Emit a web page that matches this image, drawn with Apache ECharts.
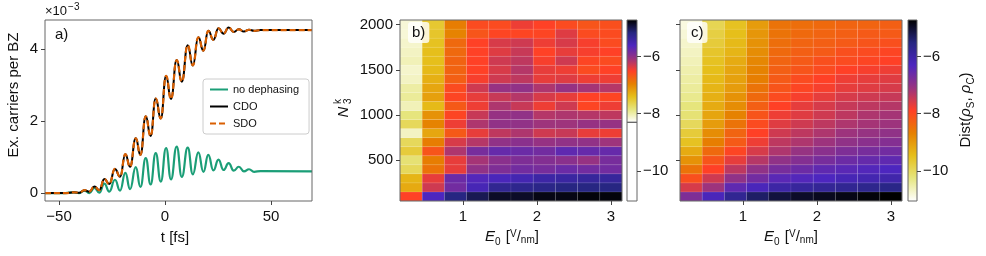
<!DOCTYPE html>
<html><head><meta charset="utf-8">
<script src="https://cdn.jsdelivr.net/npm/echarts@6/dist/echarts.min.js"></script>
<style>html,body{margin:0;padding:0;background:#fff}#c{width:986px;height:256px}</style>
</head><body><div id="c"></div>
<script>
// ---------- panel a data (carriers, units of 1e-3) ----------
const timeFs = [-56.6,-47,-43,-40.5,-38,-35.7,-33.3,-31,-28.6,-26.3,-23.6,-21.2,-18.7,-16.5,-13.8,-11.6,-9.1,-6.8,-4.4,-2.0,0.5,2.8,5.5,7.9,10.7,13.1,15.7,18.1,20.4,22.8,25.2,27.6,30.0,32.4,34.8,37.2,39.6,42,45,69.3];
const noDephasing = [0,0,0.02,0.0,0.07,0.0,0.14,0.01,0.26,0.04,0.37,0.07,0.56,0.11,0.72,0.17,0.97,0.24,1.11,0.32,1.25,0.38,1.29,0.45,1.26,0.52,1.13,0.59,1.06,0.63,0.93,0.64,0.83,0.62,0.73,0.6,0.66,0.59,0.61,0.6];
const cdo = [0,0,0.02,0.01,0.08,0.04,0.18,0.08,0.39,0.25,0.67,0.45,1.08,0.73,1.52,1.06,2.13,1.58,2.62,2.07,3.25,2.61,3.69,3.09,4.10,3.54,4.32,3.95,4.50,4.25,4.57,4.42,4.59,4.47,4.54,4.48,4.53,4.50,4.52,4.52];
const sdo = [0,0,0.02,0.01,0.08,0.04,0.18,0.08,0.39,0.25,0.67,0.45,1.08,0.73,1.52,1.06,2.13,1.58,2.62,2.07,3.25,2.61,3.69,3.09,4.10,3.54,4.32,3.95,4.50,4.25,4.57,4.42,4.59,4.47,4.54,4.48,4.53,4.50,4.52,4.52];
const ticksTime = [-50, 0, 50];
const ticksCarriers = [0, 2, 4];

// ---------- panels b, c data ----------
const fieldE0 = [0.3,0.6,0.9,1.2,1.5,1.8,2.1,2.4,2.7,3.0];
const kPoints = [100,200,300,400,500,600,700,800,900,1000,1100,1200,1300,1400,1500,1600,1700,1800,1900,2000];
const ticksE0 = [1, 2, 3];
const ticksK = [500, 1000, 1500, 2000];
const ticksDist = [-10, -8, -6];
// one row per E0 value, entries follow kPoints
const distB = [
  [-6.52,-7.26,-7.34,-7.69,-7.80,-7.55,-7.69,-8.09,-7.69,-7.84,-8.05,-7.94,-7.98,-8.09,-8.12,-8.05,-8.09,-8.12,-8.16,-8.16],
  [-5.62,-6.30,-6.41,-6.87,-6.94,-6.66,-6.94,-7.23,-6.98,-7.09,-7.37,-7.19,-7.23,-7.30,-7.37,-7.41,-7.41,-7.44,-7.48,-7.51],
  [-5.19,-5.84,-5.80,-6.41,-6.41,-6.16,-6.34,-6.69,-6.44,-6.55,-6.69,-6.55,-6.59,-6.73,-6.76,-6.76,-6.80,-6.80,-6.98,-6.94],
  [-5.02,-5.55,-5.66,-6.02,-6.12,-5.87,-6.19,-6.41,-6.16,-6.27,-6.44,-6.41,-6.30,-6.48,-6.52,-6.52,-6.52,-6.52,-6.66,-6.59],
  [-4.87,-5.30,-5.59,-5.91,-5.98,-5.77,-6.02,-6.23,-6.02,-6.05,-6.16,-6.27,-6.05,-6.30,-6.34,-6.30,-6.37,-6.34,-6.55,-6.59],
  [-4.87,-5.27,-5.52,-5.84,-5.91,-5.80,-5.98,-6.16,-6.02,-6.02,-6.27,-6.19,-6.02,-6.23,-6.19,-6.23,-6.27,-6.30,-6.55,-6.44],
  [-4.80,-5.23,-5.44,-5.87,-5.94,-5.84,-6.05,-6.30,-6.09,-6.19,-6.44,-6.34,-6.16,-6.41,-6.41,-6.48,-6.52,-6.44,-6.55,-6.52],
  [-4.80,-5.19,-5.41,-5.80,-5.98,-5.73,-6.02,-6.27,-6.09,-6.16,-6.30,-6.41,-6.05,-6.37,-6.44,-6.30,-6.41,-6.34,-6.37,-6.59],
  [-4.77,-5.19,-5.37,-5.84,-6.05,-5.77,-6.02,-6.41,-6.05,-6.19,-6.55,-6.52,-6.12,-6.44,-6.59,-6.55,-6.48,-6.48,-6.59,-6.66],
  [-4.77,-5.19,-5.37,-5.84,-5.87,-5.77,-6.09,-6.44,-6.05,-6.23,-6.44,-6.55,-6.19,-6.44,-6.52,-6.59,-6.52,-6.59,-6.59,-6.62]
];
const distC = [
  [-6.82,-7.57,-8.08,-8.52,-8.90,-9.22,-9.53,-9.72,-9.98,-10.17,-10.23,-10.35,-10.42,-10.48,-10.54,-10.61,-10.67,-10.73,-10.80,-10.86],
  [-6.25,-7.13,-7.51,-7.89,-8.14,-8.40,-8.65,-8.84,-9.03,-9.15,-9.22,-9.28,-9.34,-9.41,-9.47,-9.53,-9.60,-9.72,-9.79,-9.91],
  [-5.74,-6.50,-7.01,-7.38,-7.70,-7.95,-8.21,-8.33,-8.52,-8.71,-8.84,-8.90,-9.03,-9.09,-9.15,-9.22,-9.34,-9.41,-9.47,-9.53],
  [-5.36,-6.25,-6.69,-7.01,-7.32,-7.57,-7.76,-7.89,-8.02,-8.14,-8.27,-8.40,-8.52,-8.65,-8.71,-8.77,-8.84,-8.90,-8.96,-9.03],
  [-5.11,-5.99,-6.44,-6.75,-7.01,-7.26,-7.38,-7.51,-7.64,-7.76,-7.89,-8.02,-8.14,-8.21,-8.27,-8.33,-8.40,-8.46,-8.52,-8.52],
  [-4.98,-5.87,-6.37,-6.63,-6.88,-7.07,-7.26,-7.38,-7.51,-7.64,-7.70,-7.83,-7.95,-8.02,-8.14,-8.21,-8.27,-8.33,-8.40,-8.46],
  [-4.92,-5.80,-6.31,-6.50,-6.75,-6.94,-7.13,-7.26,-7.38,-7.51,-7.57,-7.70,-7.83,-7.89,-8.02,-8.08,-8.21,-8.27,-8.33,-8.40],
  [-4.86,-5.74,-6.18,-6.44,-6.63,-6.82,-7.01,-7.13,-7.26,-7.38,-7.45,-7.57,-7.70,-7.76,-7.89,-8.02,-8.08,-8.21,-8.27,-8.33],
  [-4.79,-5.68,-6.12,-6.37,-6.56,-6.75,-6.94,-7.07,-7.19,-7.26,-7.38,-7.51,-7.64,-7.70,-7.83,-7.95,-8.02,-8.14,-8.21,-8.33],
  [-4.73,-5.61,-6.06,-6.31,-6.50,-6.69,-6.88,-7.01,-7.13,-7.19,-7.32,-7.45,-7.57,-7.64,-7.76,-7.89,-7.95,-8.08,-8.21,-8.27]
];
const colorRangeB = [-8.3, -4.73];
const colorRangeC = [-11.05, -4.73];

// ---------- styling ----------
const FONT = "'Liberation Sans', Arial, sans-serif";
const CMR = ['#000000','#262680','#4d26bf','#993380','#ff4026','#e68000','#e6bf1a','#e6e680','#ffffff']; // dark -> light
const CMR_R = CMR.slice().reverse();
const minus = v => String(v).replace('-', '\u2212');

function valAxis(gridIndex, min, max, ticks, opts) {
  opts = opts || {};
  return {
    type: 'value', gridIndex, min, max, position: opts.position,
    show: opts.show !== false, z: 6,
    splitLine: {show: false}, axisLine: {show: false, onZero: false},
    axisTick: {show: !!ticks, length: 4, lineStyle: {color: '#444', width: 1}, customValues: ticks || undefined},
    axisLabel: {show: !!ticks && opts.labels !== false, customValues: ticks || undefined, formatter: minus,
      fontFamily: FONT, fontSize: 15, color: '#111', margin: opts.margin || 7}
  };
}
const frame = {show: true, borderColor: '#666', borderWidth: 1, backgroundColor: 'transparent', z: 5};

function cells(grid) {
  const out = [];
  fieldE0.forEach((e, i) => kPoints.forEach((n, j) => out.push([e, n, grid[i][j]])));
  return out;
}
const HALF_E = 0.15, HALF_N = 50;
function renderCell(params, api) {
  const e = api.value(0), n = api.value(1);
  const p0 = api.coord([e - HALF_E, n + HALF_N]);
  const p1 = api.coord([e + HALF_E, n - HALF_N]);
  return {type: 'rect', shape: {x: p0[0], y: p0[1], width: p1[0] - p0[0], height: p1[1] - p0[1]},
    style: {fill: api.visual('color'), stroke: 'rgba(255,255,255,0.13)', lineWidth: 0.6}};
}
function makeBar(range, axisRange) {
  const frac = (axisRange[1] - range[0]) / (axisRange[1] - axisRange[0]);
  const stops = CMR.map((c, i) => ({offset: frac * i / 8, color: c}));
  if (frac < 1) stops.push({offset: 1, color: '#ffffff'});
  return function (params, api) {
    const a = api.coord([0, axisRange[1]]), b = api.coord([1, axisRange[0]]);
    const children = [{type: 'rect', shape: {x: a[0], y: a[1], width: b[0] - a[0], height: b[1] - a[1]},
      style: {fill: new echarts.graphic.LinearGradient(0, 0, 0, 1, stops)}}];
    if (frac < 1) {
      const y = api.coord([0, range[0]])[1];
      children.push({type: 'line', shape: {x1: a[0], y1: y, x2: b[0], y2: y}, style: {stroke: '#333', lineWidth: 1}});
    }
    return {type: 'group', children};
  };
}

const chart = echarts.init(document.getElementById('c'), null, {renderer: 'canvas'});

chart.setOption({
  animation: false,
  grid: [
    Object.assign({left: 45, top: 20, width: 267, height: 181}, frame),
    Object.assign({left: 400, top: 20, width: 222, height: 181}, frame),
    Object.assign({left: 627, top: 20, width: 10, height: 181}, frame),
    Object.assign({left: 680, top: 20, width: 222, height: 181}, frame),
    Object.assign({left: 908, top: 20, width: 9, height: 181}, frame)
  ],
  xAxis: [
    valAxis(0, -56.6, 69.3, ticksTime, {margin: 8}),
    valAxis(1, 0.15, 3.15, ticksE0, {margin: 8}),
    valAxis(2, 0, 1, null, {show: false}),
    valAxis(3, 0.15, 3.15, ticksE0, {margin: 8}),
    valAxis(4, 0, 1, null, {show: false})
  ],
  yAxis: [
    valAxis(0, -0.22, 4.8, ticksCarriers, {position: 'left'}),
    valAxis(1, 50, 2050, ticksK, {position: 'left'}),
    valAxis(2, colorRangeC[0], colorRangeC[1], ticksDist, {position: 'right', margin: 6}),
    valAxis(3, 50, 2050, ticksK, {labels: false, position: 'left'}),
    valAxis(4, colorRangeC[0], colorRangeC[1], ticksDist, {position: 'right', margin: 6})
  ],
  visualMap: [
    {type: 'continuous', show: false, seriesIndex: 3, dimension: 2, min: colorRangeB[0], max: colorRangeB[1], inRange: {color: CMR_R}},
    {type: 'continuous', show: false, seriesIndex: 5, dimension: 2, min: colorRangeC[0], max: colorRangeC[1], inRange: {color: CMR_R}}
  ],
  legend: {
    data: ['no dephasing', 'CDO', 'SDO'], orient: 'vertical', left: 203, top: 79,
    padding: [5, 10, 5, 6], itemGap: 6, itemWidth: 18, itemHeight: 10,
    backgroundColor: '#fff', borderColor: '#ccc', borderWidth: 1, borderRadius: 3,
    itemStyle: {opacity: 0},
    textStyle: {fontFamily: FONT, fontSize: 11, color: '#111'}
  },
  series: [
    {type: 'line', name: 'no dephasing', xAxisIndex: 0, yAxisIndex: 0, data: timeFs.map((t, i) => [t, noDephasing[i]]),
      smooth: 0.5, smoothMonotone: 'x', symbol: 'none', lineStyle: {color: '#1b9e77', width: 2.2}, itemStyle: {color: '#1b9e77'}, z: 2},
    {type: 'line', name: 'CDO', xAxisIndex: 0, yAxisIndex: 0, data: timeFs.map((t, i) => [t, cdo[i]]),
      smooth: 0.5, smoothMonotone: 'x', symbol: 'none', lineStyle: {color: '#000', width: 2}, itemStyle: {color: '#000'}, z: 3},
    {type: 'line', name: 'SDO', xAxisIndex: 0, yAxisIndex: 0, data: timeFs.map((t, i) => [t, sdo[i]]),
      smooth: 0.5, smoothMonotone: 'x', symbol: 'none', lineStyle: {color: '#d95f02', width: 2.2, type: [6, 3]}, itemStyle: {color: '#d95f02'}, z: 4},
    {type: 'custom', xAxisIndex: 1, yAxisIndex: 1, data: cells(distB), encode: {x: 0, y: 1}, renderItem: renderCell, z: 2},
    {type: 'custom', xAxisIndex: 2, yAxisIndex: 2, data: [[0.5, -8]], encode: {x: 0, y: 1}, renderItem: makeBar(colorRangeB, colorRangeC), z: 2},
    {type: 'custom', xAxisIndex: 3, yAxisIndex: 3, data: cells(distC), encode: {x: 0, y: 1}, renderItem: renderCell, z: 2},
    {type: 'custom', xAxisIndex: 4, yAxisIndex: 4, data: [[0.5, -8]], encode: {x: 0, y: 1}, renderItem: makeBar(colorRangeC, colorRangeC), z: 2}
  ],
  graphic: [
    {type: 'text', x: 45, y: 2, z: 10, style: {text: '{n|\u00d710}{s|\u22123}', fontFamily: FONT,
      rich: {n: {fontSize: 13, fontFamily: FONT, fill: '#111', verticalAlign: 'bottom', padding: [0,0,0,0]},
             s: {fontSize: 10, fontFamily: FONT, fill: '#111', verticalAlign: 'bottom', padding: [0,0,6,1]}}}},
    {type: 'text', x: 55, y: 27, z: 10, style: {text: 'a)', fontFamily: FONT, fontSize: 15, fill: '#111'}},
    {type: 'text', x: 408, y: 22, z: 10, style: {text: 'b)', fontFamily: FONT, fontSize: 15, fill: '#111',
      backgroundColor: 'rgba(255,255,255,0.8)', padding: [3, 4, 3, 4], borderRadius: 3}},
    {type: 'text', x: 687, y: 22, z: 10, style: {text: 'c)', fontFamily: FONT, fontSize: 15, fill: '#111',
      backgroundColor: 'rgba(255,255,255,0.8)', padding: [3, 4, 3, 4], borderRadius: 3}},
    {type: 'text', x: 14, y: 95, rotation: Math.PI / 2, z: 10, style: {text: 'Ex. carriers per BZ', fontFamily: FONT, fontSize: 15,
      fill: '#111', align: 'center', verticalAlign: 'middle'}},
    {type: 'text', x: 175, y: 238, z: 10, style: {text: 't [fs]', fontFamily: FONT, fontSize: 15, fill: '#111', align: 'center', verticalAlign: 'middle'}},
    ...[512, 791].map(cx => ({type: 'text', x: cx, y: 238, z: 10, style: {
      text: '{i|E}{sub|0}{n| [}{up|V}{n|/}{dn|nm}{n|]}', align: 'center', verticalAlign: 'middle', fontFamily: FONT,
      rich: {
        i: {fontSize: 15, fontStyle: 'italic', fontFamily: FONT, fill: '#111', verticalAlign: 'bottom', padding: [0,0,3,0]},
        n: {fontSize: 15, fontFamily: FONT, fill: '#111', verticalAlign: 'bottom', padding: [0,0,3,0]},
        sub: {fontSize: 10, fontFamily: FONT, fill: '#111', verticalAlign: 'bottom', padding: [0,1,0,0]},
        up: {fontSize: 10, fontFamily: FONT, fill: '#111', verticalAlign: 'bottom', padding: [0,0,8,0]},
        dn: {fontSize: 10, fontFamily: FONT, fill: '#111', verticalAlign: 'bottom', padding: [0,0,2,0]}
      }}})),
    {type: 'group', x: 344, y: 108, rotation: Math.PI / 2, z: 10, children: [
      {type: 'text', x: -4, y: 0, style: {text: 'N', fontFamily: FONT, fontSize: 15, fontStyle: 'italic', fill: '#111', align: 'center', verticalAlign: 'middle'}},
      {type: 'text', x: 4, y: 4, style: {text: '3', fontFamily: FONT, fontSize: 10, fill: '#111', align: 'left', verticalAlign: 'middle'}},
      {type: 'text', x: 4, y: -6, style: {text: 'k', fontFamily: FONT, fontSize: 10, fill: '#111', align: 'left', verticalAlign: 'middle'}}
    ]},
    {type: 'text', x: 967, y: 110, rotation: Math.PI / 2, z: 10, style: {
      text: '{n|Dist(}{i|\u03c1}{sub|S}{n|, }{i|\u03c1}{sub|C}{n|)}', align: 'center', verticalAlign: 'middle', fontFamily: FONT,
      rich: {
        n: {fontSize: 15, fontFamily: FONT, fill: '#111', verticalAlign: 'bottom', padding: [0,0,3,0]},
        i: {fontSize: 15, fontStyle: 'italic', fontFamily: FONT, fill: '#111', verticalAlign: 'bottom', padding: [0,0,3,0]},
        sub: {fontSize: 10, fontFamily: FONT, fill: '#111', verticalAlign: 'bottom', padding: [0,0,0,0]}
      }}}
  ]
});
</script></body></html>
